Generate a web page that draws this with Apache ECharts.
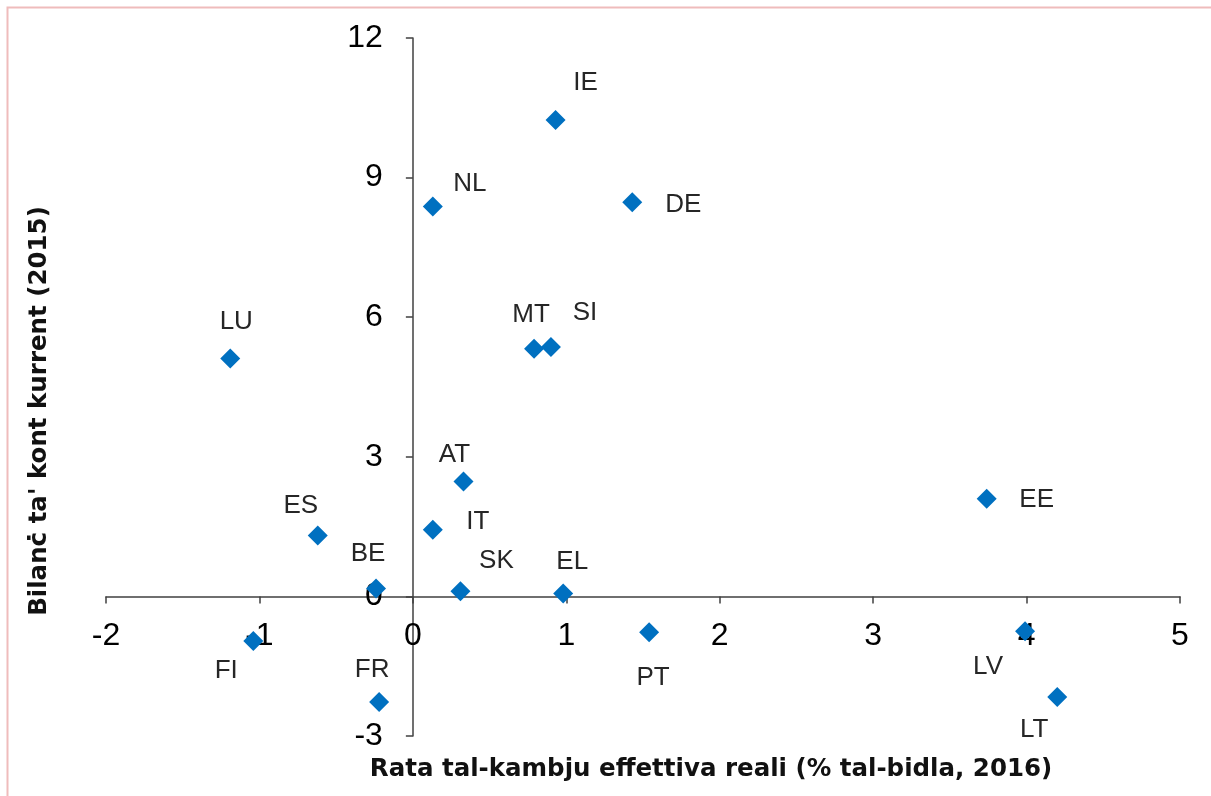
<!DOCTYPE html>
<html>
<head>
<meta charset="utf-8">
<script src="https://cdn.jsdelivr.net/npm/echarts@6/dist/echarts.min.js"></script>
<style>
html,body{margin:0;padding:0;background:#fff;}
#chart{width:1211px;height:796px;}
</style>
</head>
<body>
<div id="chart"></div>
<script>
// Data
var countries = ['IE','NL','DE','LU','MT','SI','AT','ES','IT','BE','SK','EL','EE','FI','PT','LV','FR','CY','LT'];
var reerChange = [0.93, 0.13, 1.43, -1.19, 0.79, 0.90, 0.33, -0.62, 0.13, -0.24, 0.31, 0.98, 3.74, -1.04, 1.54, 3.99, -0.22, -0.51, 4.20];
var currentAccount = [10.24, 8.38, 8.47, 5.11, 5.32, 5.36, 2.47, 1.31, 1.43, 0.17, 0.11, 0.06, 2.10, -0.96, -0.77, -0.75, -2.27, -3.02, -2.16];
var xTicks = [-2, -1, 0, 1, 2, 3, 4, 5];
var yTicks = [-3, 0, 3, 6, 9, 12];
var xTitle = 'Rata tal-kambju effettiva reali (% tal-bidla, 2016)';
var yTitle = "Bilanċ ta' kont kurrent (2015)";

// Label placement (pixel offsets from marker centre)
var labelOffsets = {
  IE:[30,-37], NL:[37,-23], DE:[51,3], LU:[6,-37], MT:[-3,-34], SI:[34,-34],
  AT:[-9,-27], ES:[-17,-30], IT:[45,-8], BE:[-8,-35], SK:[36,-30], EL:[9,-32],
  EE:[50,1], FI:[-27,30], PT:[4,46], LV:[-37,36], FR:[-7,-32], CY:[-37,-18], LT:[-23,33]
};

var points = countries.map(function(c, i){
  return {
    name: c,
    value: [reerChange[i], currentAccount[i]],
    label: { offset: labelOffsets[c] }
  };
});

var W = 1211, H = 796;
var grid = { left: 106, right: 31, top: 38, bottom: 60 };
var xMin = xTicks[0], xMax = xTicks[xTicks.length-1];
var yMin = yTicks[0], yMax = yTicks[yTicks.length-1];
var gw = W - grid.left - grid.right, gh = H - grid.top - grid.bottom;
// move axes so they cross at zero (labels travel with them)
var xAxisOffset = -gh * (0 - yMin) / (yMax - yMin);
var yAxisOffset = -gw * (0 - xMin) / (xMax - xMin);

var axisCol = '#404040';
var chart = echarts.init(document.getElementById('chart'), null, {renderer:'canvas'});
chart.setOption({
  animation: false,
  backgroundColor: '#ffffff',
  grid: grid,
  xAxis: {
    type: 'value', position: 'bottom', offset: xAxisOffset,
    min: xMin, max: xMax, interval: 1,
    splitLine: { show: false },
    axisLine: { onZero: false, lineStyle: { color: axisCol, width: 1.5 } },
    axisTick: { show: true, length: 7, lineStyle: { color: axisCol, width: 1.5 } },
    axisLabel: { color: '#000', fontSize: 32, fontFamily: 'Liberation Sans, Arial, sans-serif', margin: 24 }
  },
  yAxis: {
    type: 'value', position: 'left', offset: yAxisOffset,
    min: yMin, max: yMax, interval: 3,
    splitLine: { show: false },
    axisLine: { onZero: false, lineStyle: { color: axisCol, width: 1.5 } },
    axisTick: { show: true, length: 7, lineStyle: { color: axisCol, width: 1.5 } },
    axisLabel: { color: '#000', fontSize: 32, fontFamily: 'Liberation Sans, Arial, sans-serif', margin: 30 }
  },
  series: [{
    type: 'scatter',
    symbol: 'diamond',
    symbolSize: 20,
    itemStyle: { color: '#0070C0', opacity: 1 },
    data: points,
    label: {
      show: true,
      position: 'inside',
      formatter: '{b}',
      color: '#262626',
      fontSize: 26,
      fontFamily: 'Liberation Sans, Arial, sans-serif'
    },
    z: 5
  }],
  graphic: [
    { type: 'rect', left: 5, top: 5, shape: { width: 1300, height: 900 }, style: { fill: 'none', stroke: '#efbcbc', lineWidth: 2 }, silent: true },
    { type: 'text', x: 711, y: 770, style: { text: xTitle, fill: '#111', font: 'bold 24.5px "DejaVu Sans", Verdana, sans-serif', textAlign: 'center', textVerticalAlign: 'middle' } },
    { type: 'text', x: 40, y: 411, rotation: Math.PI/2, style: { text: yTitle, fill: '#111', font: 'bold 24.5px "DejaVu Sans", Verdana, sans-serif', textAlign: 'center', textVerticalAlign: 'middle' } }
  ]
});
</script>
</body>
</html>
